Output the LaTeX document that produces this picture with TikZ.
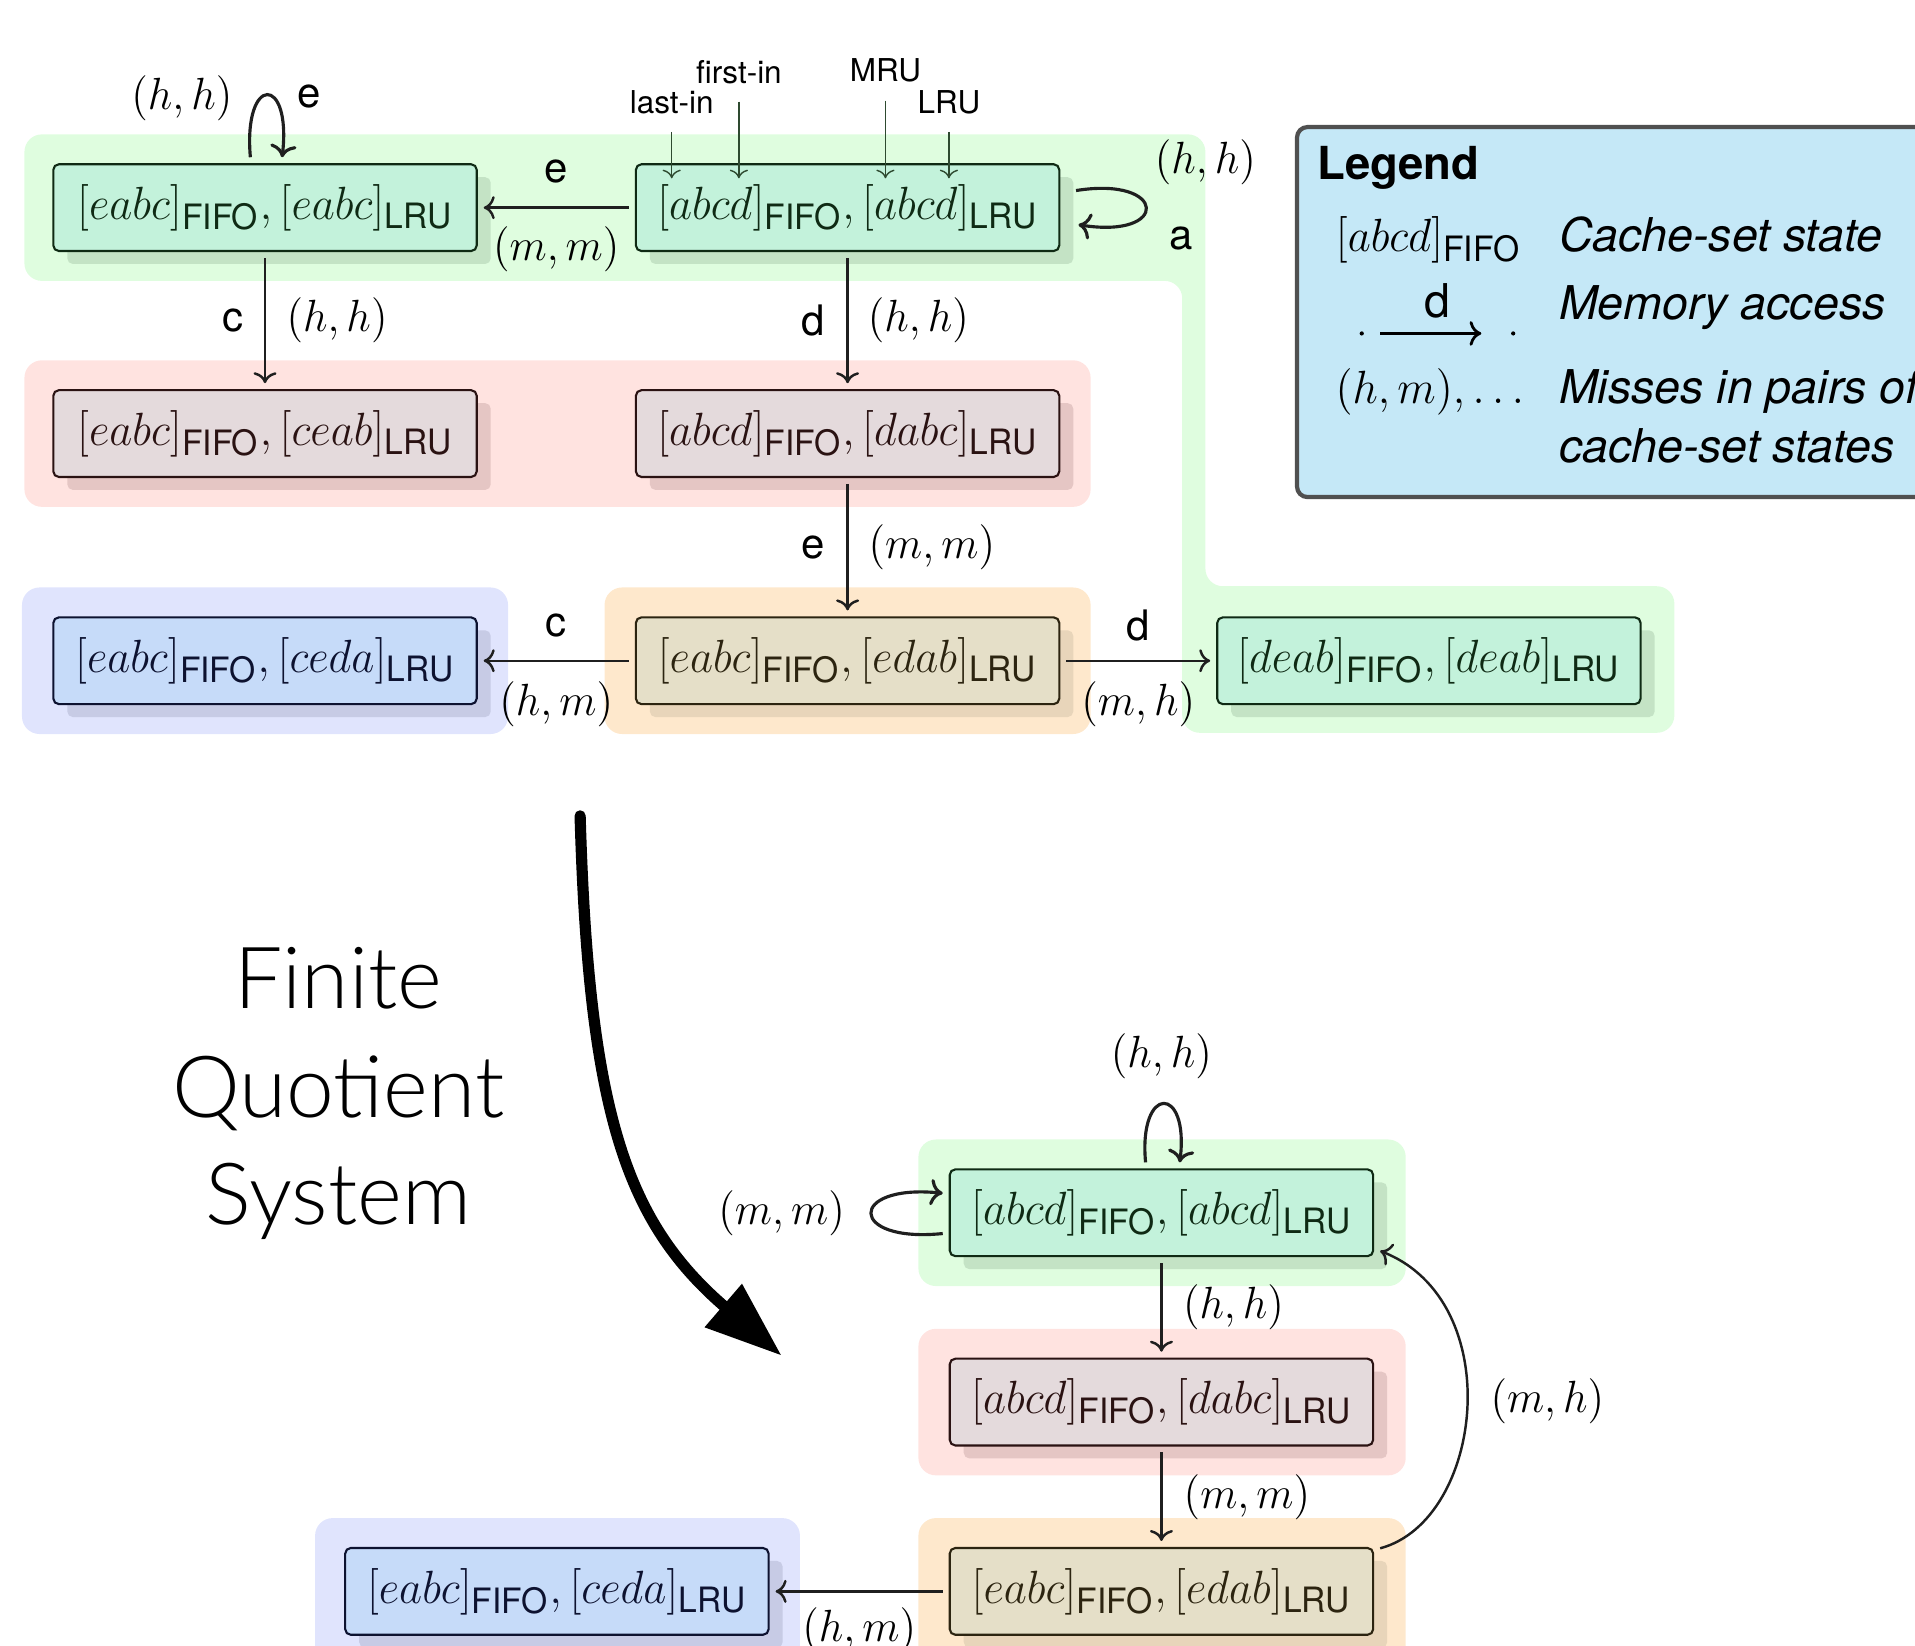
\RequirePackage{fix-cm}
\documentclass[tikz,border=0pt]{standalone}
\usepackage{amsmath}
\usepackage{fontspec}
\setsansfont{TeX Gyre Heros}
\newfontfamily\hv{TeX Gyre Heros}
\IfFontExistsTF{Lato Light}{\newfontfamily\gillfont{Lato Light}}{\newfontfamily\gillfont{Lato}}
\usetikzlibrary{arrows.meta,shadows}

\definecolor{gbg}{HTML}{DFFDDF}\definecolor{gfill}{HTML}{C3F2DB}\definecolor{gsh}{HTML}{C4E3C5}\definecolor{gtext}{HTML}{0F2A14}
\definecolor{rbg}{HTML}{FFE3E0}\definecolor{rfill}{HTML}{E4DADC}\definecolor{rsh}{HTML}{E5C6C4}\definecolor{rtext}{HTML}{2A1212}
\definecolor{bbg}{HTML}{E0E4FD}\definecolor{bfill}{HTML}{C6DBF9}\definecolor{bsh}{HTML}{C7CBE5}\definecolor{btext}{HTML}{0D1230}
\definecolor{obg}{HTML}{FEE8CC}\definecolor{ofill}{HTML}{E5DFC8}\definecolor{osh}{HTML}{E8D5BA}\definecolor{otext}{HTML}{2C2410}
\definecolor{legfill}{HTML}{C5E8F7}\definecolor{legdraw}{HTML}{505050}
\definecolor{annc}{HTML}{2E4A30}

\newdimen\uu \uu=0.349pt
\newcommand\vs[1]{\scalebox{1}[1.04]{#1}}
\newcommand\boxfont{\fontsize{12.8}{15}\selectfont}
\newcommand\labfont{\fontsize{12.4}{15}\selectfont}
\newcommand\subsf[1]{\mbox{\fontsize{9.6}{11}\selectfont\hv #1}}
\newcommand\cst[2]{\vs{$[#1]_{\subsf{FIFO}},[#2]_{\subsf{LRU}}$}}

\begin{document}
\begin{tikzpicture}[x=0.349pt,y=-0.349pt,
  stbox/.style={rounded corners=1.6pt, line width=0.6pt, minimum width=121pt, minimum height=24.8pt, inner sep=0pt, outer sep=2pt, font=\boxfont},
  gbox/.style={stbox, fill=gfill, draw=gtext, text=gtext, drop shadow={shadow xshift=4pt,shadow yshift=-3.7pt,fill=gsh,opacity=1}},
  rbox/.style={stbox, fill=rfill, draw=rtext, text=rtext, drop shadow={shadow xshift=4pt,shadow yshift=-3.7pt,fill=rsh,opacity=1}},
  bbox/.style={stbox, fill=bfill, draw=btext, text=btext, drop shadow={shadow xshift=4pt,shadow yshift=-3.7pt,fill=bsh,opacity=1}},
  obox/.style={stbox, fill=ofill, draw=otext, text=otext, drop shadow={shadow xshift=4pt,shadow yshift=-3.7pt,fill=osh,opacity=1}},
  edge/.style={->, line width=0.7pt, draw=black!88},
  loopedge/.style={->, line width=0.9pt, draw=black!88},
  lab/.style={font=\hv\fontsize{12}{14}\selectfont, inner sep=0pt},
  mlab/.style={font=\labfont, inner sep=0pt},
  ann/.style={font=\hv\fontsize{9}{10}\selectfont, inner sep=0pt, outer sep=5.2pt},
  annarrow/.style={->, line width=0.4pt, draw=annc},
  legtext/.style={font=\hv\itshape\fontsize{13.3}{15}\selectfont, inner sep=0pt},
  bgr/.style={rounded corners=5pt}
]
\useasboundingbox (0,0) rectangle (1568,1347);
\clip (0,0) rectangle (1568,1347);

% ---------- group backgrounds (top) ----------
\fill[gbg, bgr] (20,110) -- (987,110) -- (987,480) -- (1371,480) -- (1371,600) -- (968,600) -- (968,230) -- (20,230) -- cycle;
\fill[rbg, bgr] (20,295) rectangle (893,415);
\fill[bbg, bgr] (18,481) rectangle (416,601);
\fill[obg, bgr] (495,481) rectangle (893,601);

% ---------- group backgrounds (bottom) ----------
\fill[gbg, bgr] (752,933) rectangle (1151,1053);
\fill[rbg, bgr] (752,1088) rectangle (1151,1208);
\fill[obg, bgr] (752,1243) rectangle (1151,1368);
\fill[bbg, bgr] (258,1243) rectangle (655,1368);

% ---------- legend ----------
\draw[fill=legfill, draw=legdraw, line width=1.2pt, rounded corners=3pt] (1062,104) rectangle (1640,407);
\node[anchor=base west, font=\hv\bfseries\fontsize{13}{15}\selectfont, inner sep=0pt] (legT) at (1078,147) {Legend};
\node[anchor=base west, font=\boxfont, inner sep=0pt] (leg1) at (1093,206) {\vs{$[abcd]_{\subsf{FIFO}}$}};
\node[anchor=base west, legtext] (leg1t) at (1276,206) {Cache-set state};
\node[circle, fill=black, inner sep=0pt, minimum size=1.2pt] (dotL) at (1115,273) {};
\node[circle, fill=black, inner sep=0pt, minimum size=1.2pt] (dotR) at (1239,273) {};
\draw[->, line width=0.8pt, shorten <=4.5pt, shorten >=8.3pt] (dotL) -- (dotR)
  node[midway, anchor=base, yshift=13.4\uu, font=\hv\fontsize{13.3}{15}\selectfont, inner sep=0pt] (legd) {d};
\node[anchor=base west, legtext] (leg2t) at (1276,262) {Memory access};
\node[anchor=base west, font=\boxfont, inner sep=0pt] (leg3) at (1093,330) {\vs{$(h,m),\ldots$}};
\node[anchor=base west, legtext] (leg3t) at (1276,330) {Misses in pairs of};
\node[anchor=base west, legtext] (leg3u) at (1276,379) {cache-set states};

% ---------- top graph nodes ----------
\node[gbox] (A1) at (217,170) {\cst{eabc}{eabc}};
\node[gbox] (A2) at (694,170) {\cst{abcd}{abcd}};
\node[rbox] (B1) at (217,355) {\cst{eabc}{ceab}};
\node[rbox] (B2) at (694,355) {\cst{abcd}{dabc}};
\node[bbox] (C1) at (217,541) {\cst{eabc}{ceda}};
\node[obox] (C2) at (694,541) {\cst{eabc}{edab}};
\node[gbox] (C3) at (1170,541) {\cst{deab}{deab}};

% annotations
\node[ann, anchor=base] (lastin) at (550,92.7) {last-in};
\node[ann, anchor=base] (firstin) at (605,68) {first-in};
\node[ann, anchor=base] (mru) at (725,67) {MRU};
\node[ann, anchor=base] (lru) at (777,92.7) {LRU};
\coordinate (pLI) at (550,146);
\coordinate (pFI) at (605,146);
\coordinate (pMR) at (725,146);
\coordinate (pLR) at (777,146);
\draw[annarrow] (lastin.south) -- (pLI);
\draw[annarrow] (firstin.south) -- (pFI);
\draw[annarrow] (mru.south) -- (pMR);
\draw[annarrow] (lru.south) -- (pLR);

% ---------- top graph edges ----------
\draw[edge] (A2) -- (A1)
  node[midway, yshift=30\uu, lab] {e}
  node[midway, yshift=-34\uu, mlab] {\vs{$(m,m)$}};
\draw[edge] (A1) -- (B1)
  node[midway, xshift=-26\uu, lab] {c}
  node[midway, xshift=59\uu, mlab] {\vs{$(h,h)$}};
\draw[edge] (A2) -- (B2)
  node[midway, xshift=-28\uu, lab] {d}
  node[midway, xshift=58\uu, mlab] {\vs{$(h,h)$}};
\draw[edge] (B2) -- (C2)
  node[midway, xshift=-28\uu, lab] {e}
  node[midway, xshift=69\uu, mlab] {\vs{$(m,m)$}};
\draw[edge] (C2) -- (C1)
  node[midway, yshift=29\uu, lab] {c}
  node[midway, yshift=-36\uu, mlab] {\vs{$(h,m)$}};
\draw[edge] (C2) -- (C3)
  node[midway, yshift=29\uu, lab] {d}
  node[midway, yshift=-36\uu, mlab] {\vs{$(m,h)$}};

% loops
\draw[loopedge] ([xshift=-12\uu]A1.north) .. controls +(-6,-68) and +(8,-68) .. ([xshift=14\uu]A1.north);
\node[mlab] (A1lh) at (149,80) {\vs{$(h,h)$}};
\node[lab] (A1le) at (253,79) {e};
\draw[loopedge] ([xshift=8\uu,yshift=14\uu]A2.east) .. controls +(75,-12) and +(75,12) .. ([xshift=10\uu,yshift=-14\uu]A2.east);
\node[mlab] (A2lh) at (987,133) {\vs{$(h,h)$}};
\node[lab] (A2la) at (967,195) {a};

% ---------- finite quotient text and arrow ----------
\node[font=\gillfont\fontsize{24.5}{30}\selectfont, anchor=base, inner sep=0pt] (fq1) at (277,826) {Finite};
\node[font=\gillfont\fontsize{24.5}{30}\selectfont, anchor=base, inner sep=0pt] (fq2) at (277,915) {Quotient};
\node[font=\gillfont\fontsize{24.5}{30}\selectfont, anchor=base, inner sep=0pt] (fq3) at (277,1003) {System};
\coordinate (bigS) at (475,668);
\coordinate (bigE) at (640,1110);
\draw[line width=3.2pt, line cap=round, -{Triangle[length=22pt,width=15.5pt]}] (bigS) .. controls (482,910) and (512,1000) .. (bigE);

% ---------- quotient graph ----------
\node[gbox] (Q1) at (951,993) {\cst{abcd}{abcd}};
\node[rbox] (Q2) at (951,1148) {\cst{abcd}{dabc}};
\node[obox] (Q3) at (951,1303) {\cst{eabc}{edab}};
\node[bbox] (Q4) at (456,1303) {\cst{eabc}{ceda}};

\draw[edge] (Q1) -- (Q2) node[midway, xshift=59\uu, mlab] {\vs{$(h,h)$}};
\draw[edge] (Q2) -- (Q3) node[midway, xshift=70\uu, mlab] {\vs{$(m,m)$}};
\draw[edge] (Q3) -- (Q4) node[midway, yshift=-32\uu, mlab] {\vs{$(h,m)$}};
\draw[edge] ([yshift=-6\uu]Q3.north east) .. controls (1215,1245) and (1235,1065) .. ([yshift=10\uu]Q1.south east);
\node[mlab] (Qmh) at (1267,1147) {\vs{$(m,h)$}};

\draw[loopedge] ([xshift=-13\uu]Q1.north) .. controls +(-6,-64) and +(8,-64) .. ([xshift=15\uu]Q1.north);
\node[mlab] (Q1hh) at (951,865) {\vs{$(h,h)$}};
\draw[loopedge] ([yshift=-17\uu]Q1.west) .. controls +(-78,8) and +(-78,-8) .. ([yshift=16\uu]Q1.west);
\node[mlab] (Q1mm) at (640,993) {\vs{$(m,m)$}};
\end{tikzpicture}
\end{document}
